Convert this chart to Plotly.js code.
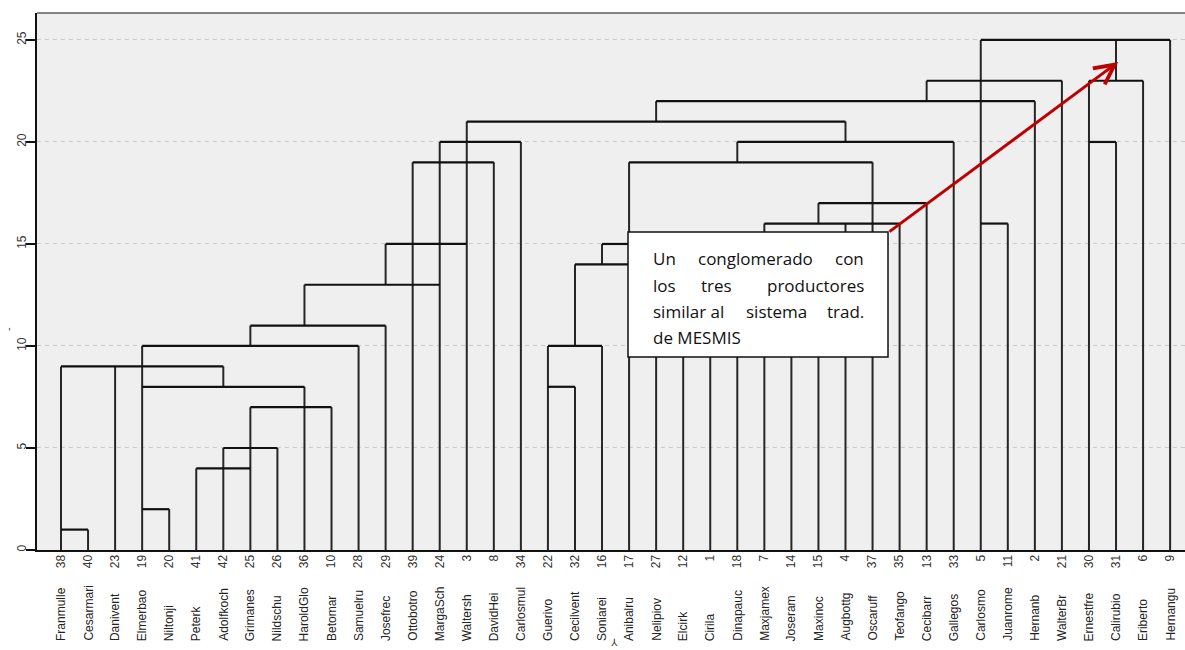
<!DOCTYPE html>
<html>
<head>
<meta charset="utf-8">
<script src="https://cdn.plot.ly/plotly-3.0.1.min.js"></script>
<style>
  html, body { margin: 0; padding: 0; background: #ffffff; }
  #chart { width: 1185px; height: 650px; }
</style>
</head>
<body>
<div id="chart"></div>
<script>
// ---- Data ----
// Leaf order (case numbers) from left to right
const leafIds = [38, 40, 23, 19, 20, 41, 42, 25, 26, 36, 10, 28, 29, 39, 24, 3, 8, 34, 22, 32, 16,
                 17, 27, 12, 1, 18, 7, 14, 15, 4, 37, 35, 13, 33, 5, 11, 2, 21, 30, 31, 6, 9];
// Leaf names (same order)
const leafNames = ['Franmulle', 'Cesarmari', 'Danivent', 'Elmerbao', 'Niltonji', 'Peterk', 'Adolfkoch',
                   'Grimanes', 'Nildschu', 'HaroldGlo', 'Betomar', 'Samuelru', 'Josefrec', 'Ottobotro',
                   'MargaSch', 'Waltersh', 'DavidHei', 'Carlosmul', 'Guerivo', 'Cecilvent', 'Soniarei',
                   'Anibalru', 'Nelipiov', 'Elcirk', 'Cirila', 'Dinapauc', 'Maxjamex', 'Joseram', 'Maxinoc',
                   'Augbottg', 'Oscaruff', 'Teofango', 'Cecibarr', 'Gallegos', 'Carlosmo', 'Juanrome',
                   'Hernanb', 'WalterBr', 'Ernestfre', 'Calirubio', 'Eriberto', 'Hernangu'];
// Vertical links: [leaf case number, lower height, upper height]
const verticalLinks = [
  [38, 0, 9], [40, 0, 1], [23, 0, 9], [19, 0, 10], [20, 0, 2], [41, 0, 4], [42, 0, 5], [42, 8, 9],
  [25, 0, 7], [25, 10, 11], [26, 0, 5], [36, 0, 8], [36, 11, 13], [10, 0, 7], [28, 0, 10],
  [29, 0, 11], [29, 13, 15], [39, 0, 19], [24, 0, 20], [3, 0, 21], [8, 0, 19], [34, 0, 20],
  [22, 0, 10], [32, 0, 8], [32, 10, 14], [16, 0, 10], [16, 14, 15], [17, 0, 19],
  [27, 0, 12], [27, 21, 22], [12, 0, 12], [1, 0, 12], [18, 0, 12], [18, 19, 20], [7, 0, 16],
  [14, 0, 12], [15, 0, 12], [15, 16, 17], [4, 0, 16], [4, 20, 21], [37, 0, 19], [35, 0, 16],
  [13, 0, 17], [13, 22, 23], [33, 0, 20], [5, 0, 25], [11, 0, 16], [2, 0, 22], [21, 0, 23],
  [30, 0, 23], [31, 0, 20], [31, 23, 25], [6, 0, 23], [9, 0, 25]
];
// Horizontal links: [height, from leaf, to leaf]
const horizontalLinks = [
  [1, 38, 40], [9, 38, 42], [2, 19, 20], [4, 41, 25], [5, 42, 26], [7, 25, 10], [8, 19, 36],
  [10, 19, 28], [11, 25, 29], [13, 36, 24], [15, 29, 3], [19, 39, 8], [20, 24, 34], [21, 3, 4],
  [22, 27, 2], [23, 13, 21], [25, 5, 9], [8, 22, 32], [10, 22, 16], [14, 32, 17], [15, 16, 17],
  [19, 17, 37], [20, 18, 33], [17, 15, 13], [16, 7, 35], [16, 5, 11], [20, 30, 31], [23, 30, 6]
];
const yTicks = [0, 5, 10, 15, 20, 25];
const noteLines = [
  ['Un', 'conglomerado', 'con'],
  ['los', 'tres', 'productores'],
  ['similar al', 'sistema', 'trad.'],
  ['de MESMIS']
];
// Arrow: from box corner (leaf-position, height) to the junction near case 31
const arrowFrom = [30.57, 15.55];
const arrowTo = [39.08, 23.92];

// ---- Build traces ----
const pos = id => leafIds.indexOf(id);
const vx = [], vy = [];
verticalLinks.forEach(([leaf, lo, hi]) => { vx.push(pos(leaf), pos(leaf), null); vy.push(lo, hi, null); });
const hx = [], hy = [];
horizontalLinks.forEach(([h, a, b]) => { hx.push(pos(a), pos(b), null); hy.push(h, h, null); });

const traces = [
  { type: 'scatter', mode: 'lines', x: vx, y: vy, line: { color: '#262626', width: 2 }, hoverinfo: 'skip', showlegend: false },
  { type: 'scatter', mode: 'lines', x: hx, y: hy, line: { color: '#111111', width: 2.2 }, hoverinfo: 'skip', showlegend: false }
];

// ---- Layout geometry ----
const W = 1185, H = 650;
const mL = 37, mR = 0, mT = 13, mB = 100;
const pw = W - mL - mR, ph = H - mT - mB;
const px2paperX = px => (px - mL) / pw;
const px2paperY = py => (H - mB - py) / ph;

const annotations = [];
// leaf names below the numbers
leafNames.forEach((name, i) => {
  annotations.push({
    x: i, xref: 'x', y: px2paperY(642), yref: 'paper', text: name, showarrow: false,
    textangle: -90, xanchor: 'center', yanchor: 'bottom', borderpad: 0,
    font: { family: 'Liberation Sans, Arial, sans-serif', size: 12, color: '#222' }
  });
});
// note box words (justified look)
const lineY = [258, 285, 311, 337];
const leftX = 652, rightX = 865;
const midX = [755, 716.5, 776.5];
const noteFont = { family: 'Open Sans, sans-serif', size: 17, color: '#111' };
noteLines.forEach((words, li) => {
  const y = px2paperY(lineY[li]);
  annotations.push({ x: px2paperX(leftX), xref: 'paper', y: y, yref: 'paper', text: words[0], showarrow: false, xanchor: 'left', yanchor: 'middle', font: noteFont, borderpad: 0 });
  if (words.length === 3) {
    annotations.push({ x: px2paperX(midX[li]), xref: 'paper', y: y, yref: 'paper', text: words[1], showarrow: false, xanchor: 'center', yanchor: 'middle', font: noteFont, borderpad: 0 });
    annotations.push({ x: px2paperX(rightX), xref: 'paper', y: y, yref: 'paper', text: words[2], showarrow: false, xanchor: 'right', yanchor: 'middle', font: noteFont, borderpad: 0 });
  }
});
// red arrow
annotations.push({
  x: arrowTo[0], y: arrowTo[1], xref: 'x', yref: 'y',
  ax: arrowFrom[0], ay: arrowFrom[1], axref: 'x', ayref: 'y',
  text: '', showarrow: true, arrowhead: 5, arrowsize: 1.3, arrowwidth: 3, arrowcolor: '#c00000', standoff: 0
});
// axis marks
annotations.push({ x: px2paperX(8), xref: 'paper', y: px2paperY(329), yref: 'paper', xanchor: 'center', yanchor: 'middle', text: '-', showarrow: false, textangle: -90, font: { family: 'Liberation Sans, Arial', size: 11, color: '#333' } });
annotations.push({ x: px2paperX(614), xref: 'paper', y: px2paperY(635), yref: 'paper', xanchor: 'center', yanchor: 'top', text: '⅄', showarrow: false, font: { family: 'DejaVu Sans', size: 10, color: '#333' } });

const shapes = [
  // top frame line
  { type: 'line', xref: 'paper', yref: 'paper', x0: 0, x1: 1, y0: 1, y1: 1, line: { color: '#111', width: 1.2 } },
  // note box
  { type: 'rect', xref: 'paper', yref: 'paper', x0: px2paperX(628), x1: px2paperX(888), y0: px2paperY(357), y1: px2paperY(232),
    fillcolor: '#ffffff', line: { color: '#111', width: 1.5 }, layer: 'above' }
];

const layout = {
  width: W, height: H,
  margin: { l: mL, r: mR, t: mT, b: mB, pad: 0 },
  paper_bgcolor: '#ffffff', plot_bgcolor: '#efefef',
  showlegend: false,
  xaxis: {
    range: [-0.887, 41.55], tickmode: 'array', tickvals: leafIds.map((_, i) => i), ticktext: leafIds.map(String),
    tickangle: -90, showgrid: false, zeroline: false, ticks: '', showline: true, linecolor: '#111', linewidth: 2,
    ticklabelstandoff: -2,
    tickfont: { family: 'Liberation Sans, Arial, sans-serif', size: 12, color: '#333' }
  },
  yaxis: {
    range: [0, 26.32], tickmode: 'array', tickvals: yTicks, ticktext: yTicks.map(String), tickangle: -90,
    showgrid: true, gridcolor: '#c9c9c9', gridwidth: 1, griddash: '4px,4px', zeroline: false,
    ticks: 'outside', ticklen: 9, tickwidth: 1.5, tickcolor: '#111', showline: true, linecolor: '#111', linewidth: 2,
    ticklabelstandoff: -5,
    tickfont: { family: 'Liberation Sans, Arial, sans-serif', size: 12, color: '#333' }
  },
  annotations: annotations,
  shapes: shapes
};

Plotly.newPlot('chart', traces, layout, { displayModeBar: false, staticPlot: true });
</script>
</body>
</html>
